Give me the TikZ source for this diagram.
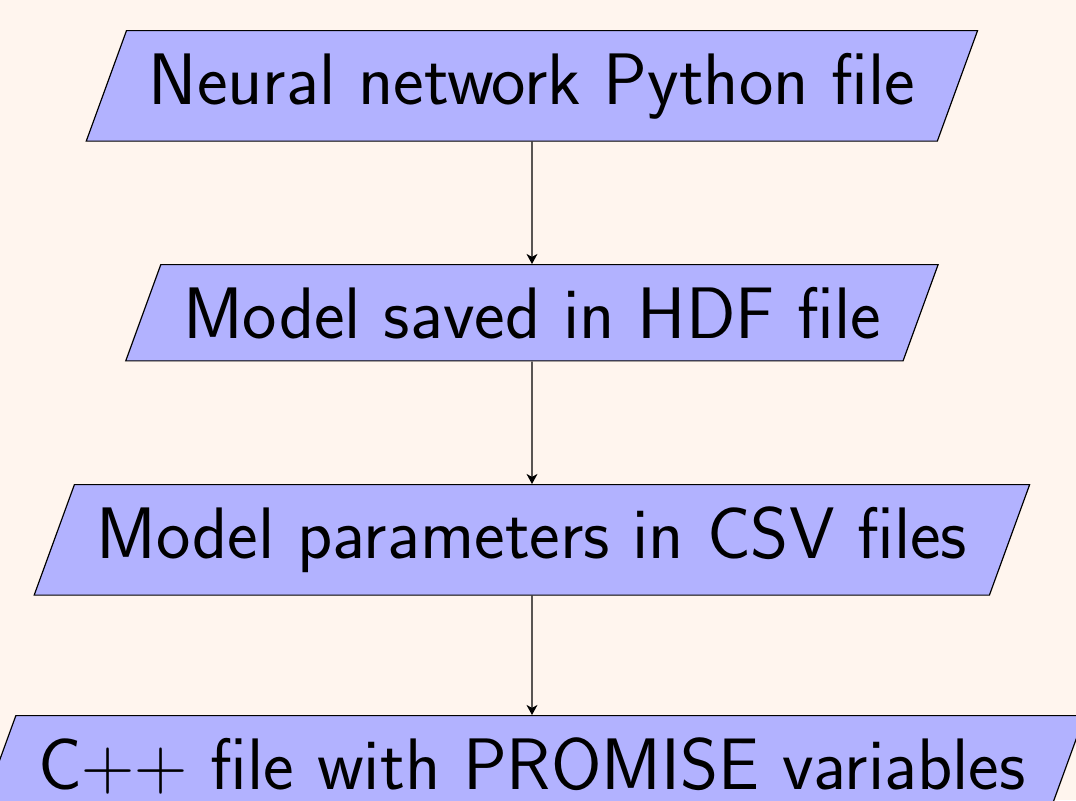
\documentclass[tikz,border=0pt]{standalone}
\usetikzlibrary{shapes.geometric,arrows.meta}
\definecolor{bgcream}{RGB}{255,245,238}
\begin{document}
\begin{tikzpicture}[x=0.3372pt,y=-0.3372pt,
  io/.style={trapezium, trapezium left angle=70, trapezium right angle=110,
    draw=black, fill=blue!30, line width=0.4pt, inner sep=7.5pt,
    font=\fontsize{24.6}{30}\selectfont\sffamily, anchor=north},
  flow/.style={-{Stealth[length=3.4pt,width=3.7pt,inset=1pt]}, line width=0.4pt}]
\fill[bgcream] (0,0) rectangle (1076,800);
\useasboundingbox (0,0) rectangle (1076,800);
\clip (0,0) rectangle (1076,800);
\node[io] (n1) at (532,30) {Neural network Python file};
\node[io] (n2) at (532,264) {Model saved in HDF file};
\node[io] (n3) at (532,484) {Model parameters in CSV files};
\node[io] (n4) at (532,715) {C$++$ file with PROMISE variables};
\draw[flow] (n1) -- (n2);
\draw[flow] (n2) -- (n3);
\draw[flow] (n3) -- (n4);
\end{tikzpicture}
\end{document}
